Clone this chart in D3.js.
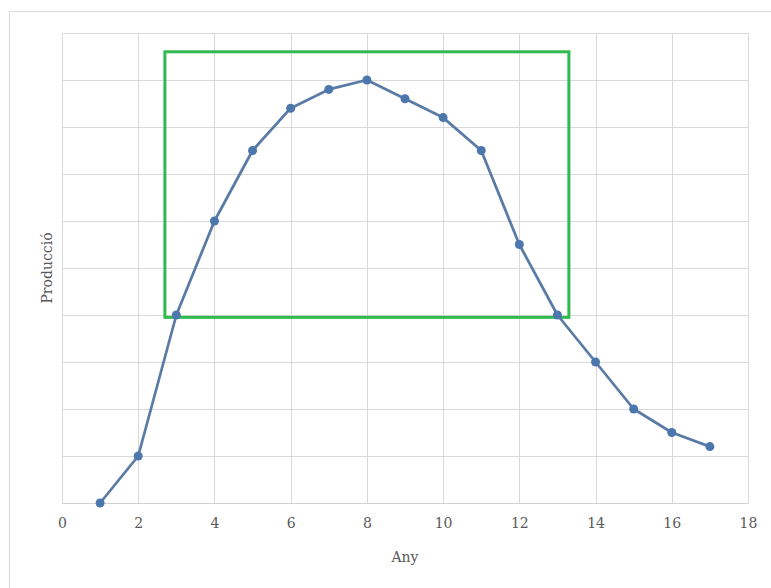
<!DOCTYPE html>
<html>
<head>
<meta charset="utf-8">
<script src="https://cdn.jsdelivr.net/npm/d3@7"></script>
<style>
  body { margin: 0; background: #fff; }
  svg text { font-family: "DejaVu Serif", "Liberation Serif", serif; fill: #595959; }
</style>
</head>
<body>
<div id="chart"></div>
<script>
// data
const years = [1, 2, 3, 4, 5, 6, 7, 8, 9, 10, 11, 12, 13, 14, 15, 16, 17];
const production = [0, 1, 4, 6, 7.5, 8.4, 8.8, 9, 8.6, 8.2, 7.5, 5.5, 4, 3, 2, 1.5, 1.2];
const xTicks = [0, 2, 4, 6, 8, 10, 12, 14, 16, 18];
const yGrid = [0, 1, 2, 3, 4, 5, 6, 7, 8, 9, 10];
// highlight box, in data units: [x0, y0, x1, y1]
const highlight = [2.7, 3.95, 13.3, 9.6];

const W = 771, H = 588;
const margin = {top: 33, right: 23, bottom: 85, left: 62};
const width = W - margin.left - margin.right,
      height = H - margin.top - margin.bottom;

const svg = d3.select("#chart").append("svg")
    .attr("width", W)
    .attr("height", H);

// outer chart border
svg.append("rect")
    .attr("x", 9.5).attr("y", 11.5)
    .attr("width", 780).attr("height", 600)
    .attr("fill", "none")
    .attr("stroke", "#d9d9d9");

const g = svg.append("g")
    .attr("transform", "translate(" + margin.left + "," + margin.top + ")");

const x = d3.scaleLinear().domain([0, 18]).range([0, width]);
const y = d3.scaleLinear().domain([0, 10]).range([height, 0]);

// grid
g.selectAll(".hgrid")
    .data(yGrid)
    .enter().append("line")
    .attr("x1", 0).attr("x2", width)
    .attr("y1", d => Math.round(y(d)) + 0.5)
    .attr("y2", d => Math.round(y(d)) + 0.5)
    .attr("stroke", "#d9d9d9");

g.selectAll(".vgrid")
    .data(xTicks)
    .enter().append("line")
    .attr("y1", 0).attr("y2", height)
    .attr("x1", d => Math.round(x(d)) + 0.5)
    .attr("x2", d => Math.round(x(d)) + 0.5)
    .attr("stroke", "#d9d9d9");

// x axis labels
const xAxis = g.append("g")
    .attr("transform", "translate(0," + height + ")")
    .call(d3.axisBottom(x).tickValues(xTicks).tickSize(0).tickPadding(15));
xAxis.select(".domain").attr("stroke", "#d0d0d0");
xAxis.selectAll("text")
    .style("font-family", "'DejaVu Serif', serif")
    .style("font-size", "14px")
    .attr("fill", "#595959");

// axis titles
svg.append("text")
    .attr("x", margin.left + width / 2)
    .attr("y", 562)
    .attr("text-anchor", "middle")
    .style("font-size", "14px")
    .text("Any");

svg.append("text")
    .attr("transform", "translate(52," + (margin.top + height / 2) + ") rotate(-90)")
    .attr("text-anchor", "middle")
    .style("font-size", "14px")
    .text("Producció");

// highlight box
g.append("rect")
    .attr("x", x(highlight[0]))
    .attr("y", y(highlight[3]))
    .attr("width", x(highlight[2]) - x(highlight[0]))
    .attr("height", y(highlight[1]) - y(highlight[3]))
    .attr("fill", "none")
    .attr("stroke", "#2fba4f")
    .attr("stroke-width", 3);

// line
const pts = years.map((d, i) => [d, production[i]]);
g.append("path")
    .datum(pts)
    .attr("fill", "none")
    .attr("stroke", "#5a7ba6")
    .attr("stroke-width", 2.75)
    .attr("stroke-linejoin", "round")
    .attr("d", d3.line().x(d => x(d[0])).y(d => y(d[1])));

g.selectAll(".dot")
    .data(pts)
    .enter().append("circle")
    .attr("cx", d => x(d[0]))
    .attr("cy", d => y(d[1]))
    .attr("r", 4.5)
    .attr("fill", "#4b77ad");
</script>
</body>
</html>
